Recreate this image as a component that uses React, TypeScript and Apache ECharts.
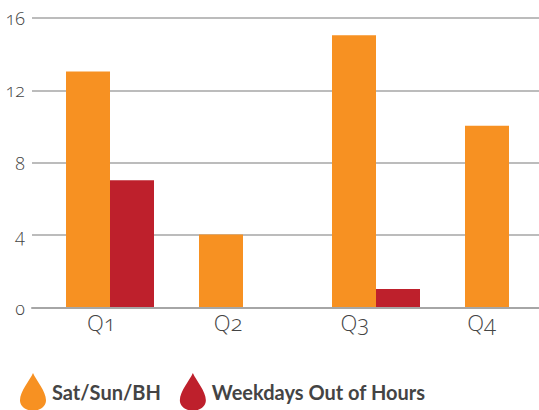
import React, { useEffect, useRef } from "react";
import * as echarts from "echarts";

const categories = ["Q1", "Q2", "Q3", "Q4"];
const satSunBH = [13, 4, 15, 10];
const weekdaysOutOfHours = [7, 0, 1, 0];
const yMin = 0;
const yMax = 16;
const yInterval = 4;
const FONT = "Lato";
const AXIS_FONT = "Open Sans";
const DROP = "path://M50 0C62 28 100 70 100 105C100 128 78 145 50 145C22 145 0 128 0 105C0 70 38 28 50 0Z";

export default function App() {
  const ref = useRef<HTMLDivElement>(null);
  useEffect(() => {
    document.body.style.margin = "0";
    const style = document.createElement("style");
    style.textContent = `svg text { font-feature-settings: "onum" 1; font-variant-numeric: oldstyle-nums; }`;
    document.head.appendChild(style);
    const chart = echarts.init(ref.current!, undefined, { renderer: "svg" });
    chart.setOption({
      animation: false,
      textStyle: { fontFamily: FONT },
      grid: [
        { left: 32, top: 18, width: 507, height: 289.5 },
        { left: 43.5, top: 17, width: 532, height: 290 },
      ],
      xAxis: [
        {
          gridIndex: 0, type: "category", data: categories,
          axisLine: { lineStyle: { color: "#a6a6a6", width: 2 } },
          axisTick: { show: false },
          axisLabel: { color: "#444", fontSize: 22, fontFamily: AXIS_FONT, fontWeight: 300, margin: 3, padding: [0, 0, 0, 12] },
        },
        { gridIndex: 1, type: "category", data: categories, show: false },
      ],
      yAxis: [
        {
          gridIndex: 0, type: "value", min: yMin, max: yMax, interval: yInterval,
          axisLine: { show: false }, axisTick: { show: false },
          axisLabel: { color: "#444", fontSize: 18, fontFamily: AXIS_FONT, fontWeight: 300, margin: 7 },
          splitLine: { lineStyle: { color: "#a6a6a6", width: 1.5 } },
        },
        { gridIndex: 1, type: "value", min: yMin, max: yMax, interval: yInterval, show: false },
      ],
      legend: {
        left: 15, top: 368, itemWidth: 26, itemGap: 19, itemHeight: 38,
        icon: DROP,
        textStyle: { color: "#444", fontSize: 20, fontWeight: 700, fontFamily: FONT, padding: [0, 0, 0, 1] },
        data: ["Sat/Sun/BH", "Weekdays Out of Hours"],
      },
      series: [
        { name: "Sat/Sun/BH", type: "bar", xAxisIndex: 1, yAxisIndex: 1, data: satSunBH, barWidth: 44, barGap: "0%", itemStyle: { color: "#f79122" } },
        { name: "Weekdays Out of Hours", type: "bar", xAxisIndex: 1, yAxisIndex: 1, data: weekdaysOutOfHours, barWidth: 44, itemStyle: { color: "#be202c" } },
      ],
    });
    return () => { chart.dispose(); style.remove(); };
  }, []);
  return (
    <div style={{ width: 539, height: 410, overflow: "hidden" }}>
      <div ref={ref} style={{ width: 640, height: 410 }} />
    </div>
  );
}
